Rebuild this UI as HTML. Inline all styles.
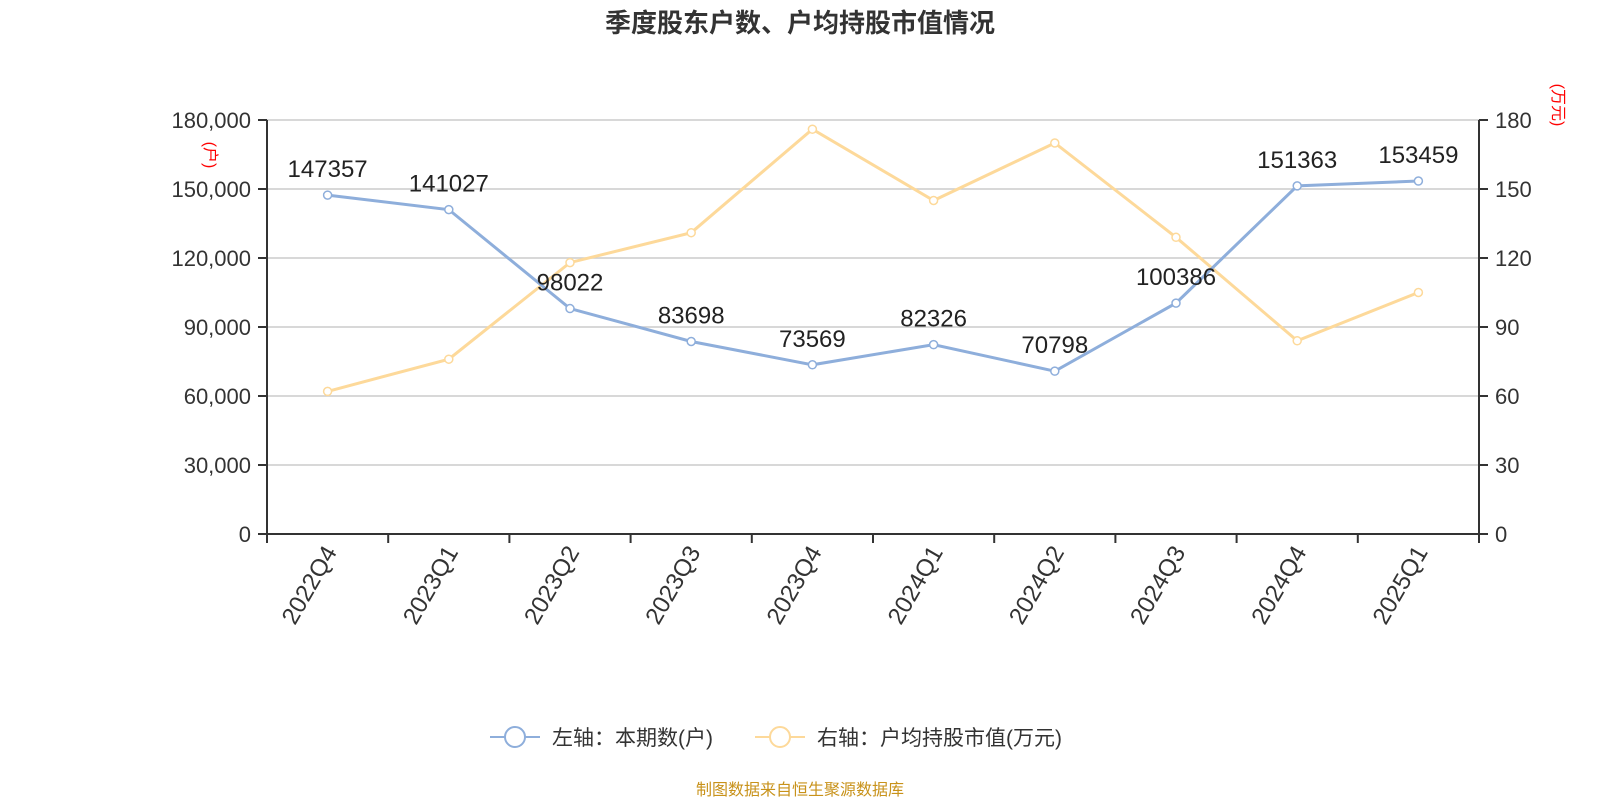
<!DOCTYPE html>
<html><head><meta charset="utf-8"><style>
html,body{margin:0;padding:0;background:#fff;}
svg{display:block;font-family:"Liberation Sans","Noto Sans CJK SC",sans-serif;}
</style></head><body>
<svg id="chart" width="1600" height="800" viewBox="0 0 1600 800">
<text x="800" y="32" text-anchor="middle" font-size="26" font-weight="bold" fill="#333">季度股东户数、户均持股市值情况</text>
<g id="grid"></g>
<g id="axes"></g>
<text transform="translate(205,155) rotate(90)" text-anchor="middle" font-size="16" fill="#f00">(户)</text>
<text transform="translate(1553,105) rotate(90)" text-anchor="middle" font-size="16" fill="#f00">(万元)</text>
<g id="series"></g>
<g>
<g>
<line x1="490" y1="737" x2="540" y2="737" stroke="#8eaedb" stroke-width="2"/>
<circle cx="515" cy="737" r="10" fill="#fff" stroke="#8eaedb" stroke-width="2"/>
<text x="552" y="745" font-size="21" fill="#333">左轴：本期数(户)</text>
</g>
<g>
<line x1="755" y1="737" x2="805" y2="737" stroke="#fdd99a" stroke-width="2"/>
<circle cx="780" cy="737" r="10" fill="#fff" stroke="#fdd99a" stroke-width="2"/>
<text x="817" y="745" font-size="21" fill="#333">右轴：户均持股市值(万元)</text>
</g>
</g>
<text x="800" y="795" text-anchor="middle" font-size="16" fill="#c8921a">制图数据来自恒生聚源数据库</text>
</svg>
<script>
const categories=["2022Q4","2023Q1","2023Q2","2023Q3","2023Q4","2024Q1","2024Q2","2024Q3","2024Q4","2025Q1"];
const holders=[147357,141027,98022,83698,73569,82326,70798,100386,151363,153459];
const avgValue=[62,76,118,131,176,145,170,129,84,105];
const leftTicks=[0,30000,60000,90000,120000,150000,180000];
const rightTicks=[0,30,60,90,120,150,180];
const NS="http://www.w3.org/2000/svg";
const X0=267,X1=1479,Y0=534,Y1=120;
const band=(X1-X0)/categories.length;
const xC=i=>X0+band*(i+0.5);
const yL=v=>Y0-(v/180000)*(Y0-Y1);
const yR=v=>Y0-(v/180)*(Y0-Y1);
function mk(tag,attrs,parent){const e=document.createElementNS(NS,tag);for(const k in attrs)e.setAttribute(k,attrs[k]);parent.appendChild(e);return e;}
const grid=document.getElementById('grid'),axes=document.getElementById('axes'),ser=document.getElementById('series');
leftTicks.forEach((t,i)=>{
 const y=yL(t);
 if(t>0){const g=mk('line',{x1:X0,x2:X1,y1:y,y2:y,stroke:'#ccc','stroke-width':1.5},grid);
 
 }
 mk('line',{x1:X0-9,x2:X0,y1:y,y2:y,stroke:'#333','stroke-width':2},axes);
 const tl=mk('text',{x:X0-16,y:y+8,'text-anchor':'end','font-size':22,fill:'#333'},axes);
 tl.textContent=t.toLocaleString('en-US');
 
 
});
rightTicks.forEach(t=>{
 const y=yR(t);
 mk('line',{x1:X1,x2:X1+9,y1:y,y2:y,stroke:'#333','stroke-width':2},axes);
 const tl=mk('text',{x:X1+16,y:y+8,'font-size':22,fill:'#333'},axes);
 tl.textContent=t;
 
 
});
const la=mk('line',{x1:X0,x2:X0,y1:Y1,y2:Y0,stroke:'#333','stroke-width':2},axes);


const ra=mk('line',{x1:X1,x2:X1,y1:Y1,y2:Y0,stroke:'#333','stroke-width':2},axes);


const xa=mk('line',{x1:X0,x2:X1,y1:Y0,y2:Y0,stroke:'#333','stroke-width':2},axes);


for(let i=0;i<=categories.length;i++){const x=X0+band*i;mk('line',{x1:x,x2:x,y1:Y0,y2:Y0+9,stroke:'#333','stroke-width':2},axes);}
categories.forEach((c,i)=>{
 const x=xC(i);
 const tl=mk('text',{transform:`translate(${x+10},${Y0+18}) rotate(-60)`,'text-anchor':'end','font-size':24,fill:'#333'},axes);
 tl.textContent=c;
 
 
});
function line(vals,yf,color,name,labels){
 const pts=vals.map((v,i)=>xC(i)+','+yf(v)).join(' ');
 const pl=mk('polyline',{points:pts,fill:'none',stroke:color,'stroke-width':3},ser);
 
 
 vals.forEach((v,i)=>{
  const c=mk('circle',{cx:xC(i),cy:yf(v),r:4,fill:'#fff',stroke:color,'stroke-width':1.5},ser);
  
  
  if(labels){
   const t=mk('text',{x:xC(i),y:yf(v)-18,'text-anchor':'middle','font-size':24,fill:'#222'},ser);
   t.textContent=v;
   
   
  }
 });
}
line(avgValue,yR,'#fdd99a','avg-value',false);
line(holders,yL,'#8eaedb','holders',true);
</script>
</body></html>
